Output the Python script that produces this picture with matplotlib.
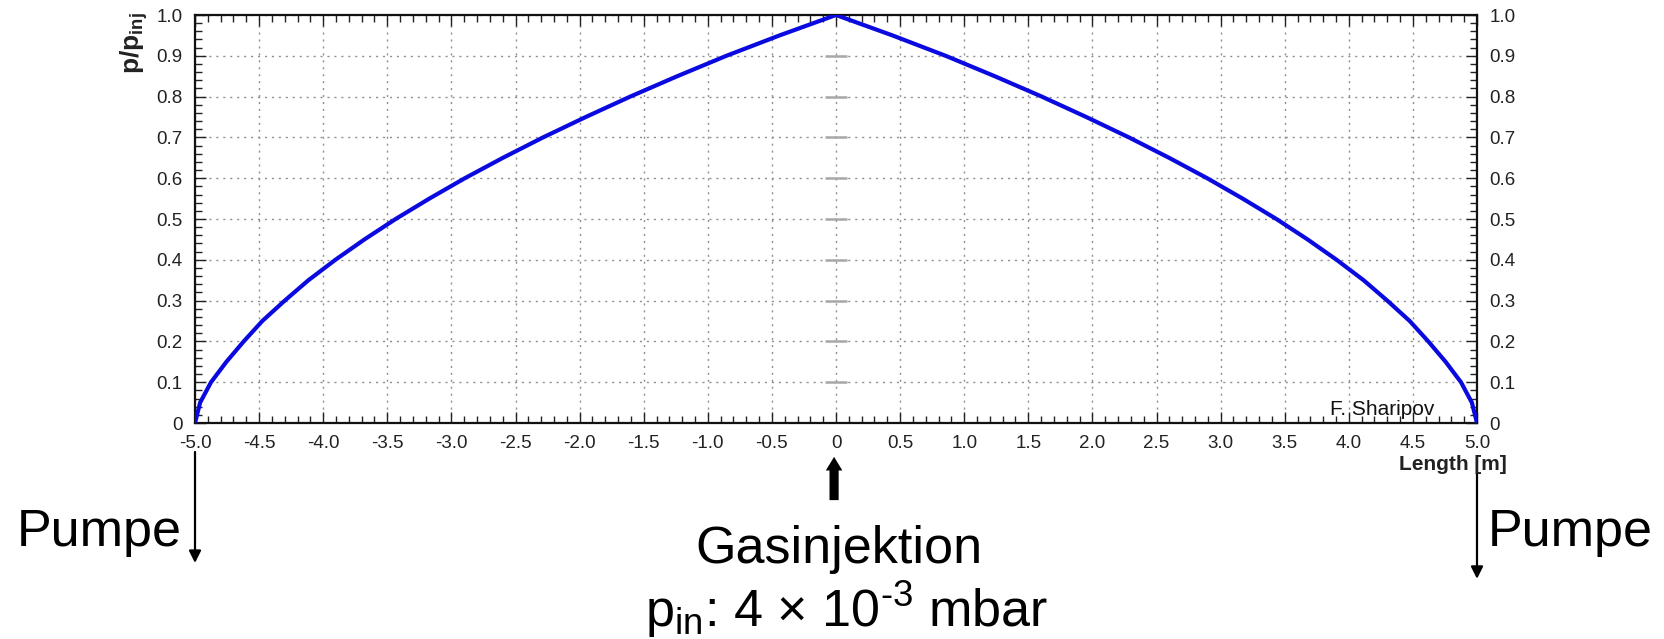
import matplotlib
matplotlib.use("Agg")
import matplotlib.pyplot as plt
from matplotlib.ticker import MultipleLocator, FixedLocator

plt.rcParams['font.family'] = ['Liberation Sans', 'DejaVu Sans']
plt.rcParams['mathtext.fontset'] = 'custom'
plt.rcParams['mathtext.rm'] = 'Liberation Sans'
plt.rcParams['mathtext.bf'] = 'Liberation Sans:bold'
plt.rcParams['axes.unicode_minus'] = False

# Data (positions where the curve crosses each p/p_inj level)
length_m = [-5.0, -4.96, -4.875, -4.755, -4.62, -4.475, -4.30, -4.115, -3.905, -3.678,
            -3.435, -3.172, -2.895, -2.598, -2.285, -1.952, -1.605, -1.238, -0.855, -0.44,
            0.0,
            0.44, 0.855, 1.238, 1.605, 1.952, 2.285, 2.598, 2.895, 3.172, 3.435,
            3.678, 3.905, 4.115, 4.30, 4.475, 4.62, 4.755, 4.875, 4.96, 5.0]
p_ratio = [0.0, 0.05, 0.10, 0.15, 0.20, 0.25, 0.30, 0.35, 0.40, 0.45,
           0.50, 0.55, 0.60, 0.65, 0.70, 0.75, 0.80, 0.85, 0.90, 0.95,
           1.0,
           0.95, 0.90, 0.85, 0.80, 0.75, 0.70, 0.65, 0.60, 0.55, 0.50,
           0.45, 0.40, 0.35, 0.30, 0.25, 0.20, 0.15, 0.10, 0.05, 0.0]

x_ticks = [-5.0, -4.5, -4.0, -3.5, -3.0, -2.5, -2.0, -1.5, -1.0, -0.5, 0.0,
           0.5, 1.0, 1.5, 2.0, 2.5, 3.0, 3.5, 4.0, 4.5, 5.0]
x_labels = ['-5.0', '-4.5', '-4.0', '-3.5', '-3.0', '-2.5', '-2.0', '-1.5', '-1.0', '-0.5', '0',
            '0.5', '1.0', '1.5', '2.0', '2.5', '3.0', '3.5', '4.0', '4.5', '5.0']
y_ticks = [0.0, 0.1, 0.2, 0.3, 0.4, 0.5, 0.6, 0.7, 0.8, 0.9, 1.0]
y_labels = ['0', '0.1', '0.2', '0.3', '0.4', '0.5', '0.6', '0.7', '0.8', '0.9', '1.0']

fig = plt.figure(figsize=(16.65, 6.39), dpi=100)
ax = fig.add_axes([195/1665, 1-423/639, (1477-195)/1665, (423-15)/639])

ax.set_xlim(-5, 5)
ax.set_ylim(0, 1)

# grid
ax.grid(True, which='major', color='#8f8f8f', linestyle=(0, (1.5, 3.5)), linewidth=1.0)
ax.set_axisbelow(True)

# gray center marks at x = 0
ax.hlines(y_ticks[1:-1], -0.085, 0.085, color='#a8a8a8', linewidth=1.8, zorder=1)

ax.plot(length_m, p_ratio, color='#0a0ae0', linewidth=3.0, zorder=3,
        solid_capstyle='round', solid_joinstyle='round')

ax.xaxis.set_major_locator(FixedLocator(x_ticks))
ax.set_xticklabels(x_labels)
ax.xaxis.set_minor_locator(MultipleLocator(0.1))
ax.yaxis.set_major_locator(FixedLocator(y_ticks))
ax.set_yticklabels(y_labels)
ax.yaxis.set_minor_locator(MultipleLocator(0.02))

ax.tick_params(axis='both', which='both', direction='in', top=True, right=True,
               labelright=True, colors='#222222', labelsize=13.5)
ax.tick_params(axis='both', which='major', length=8, width=1.0)
ax.tick_params(axis='both', which='minor', length=5, width=1.0)
ax.tick_params(axis='x', which='major', pad=9)
ax.tick_params(axis='y', which='major', pad=9)

for s in ax.spines.values():
    s.set_linewidth(1.6)
    s.set_color('#111111')

# axis titles
fig.text(134/1665, 1-12/639, r'p/p$_{\mathbf{inj}}$', rotation=90, ha='center', va='top',
         fontsize=19, fontweight='bold', color='#222222')
fig.text(1507/1665, 1-470/639, 'Length [m]', ha='right', va='baseline',
         fontsize=15, fontweight='bold', color='#222222')
ax.text(0.967, 0.02, 'F. Sharipov', transform=ax.transAxes, ha='right', va='baseline',
        fontsize=15, color='#111111')

# arrows
xt = ax.get_xaxis_transform()
ax.annotate('', xy=(-5, -0.343), xytext=(-5, -0.071), xycoords=xt, textcoords=xt,
            annotation_clip=False,
            arrowprops=dict(arrowstyle='-|>', color='black', lw=1.6, mutation_scale=18,
                            shrinkA=0, shrinkB=0))
ax.annotate('', xy=(5, -0.382), xytext=(5, -0.1225), xycoords=xt, textcoords=xt,
            annotation_clip=False,
            arrowprops=dict(arrowstyle='-|>', color='black', lw=1.6, mutation_scale=18,
                            shrinkA=0, shrinkB=0))
ax.annotate('', xy=(-0.015, -0.083), xytext=(-0.015, -0.189), xycoords=xt, textcoords=xt,
            annotation_clip=False,
            arrowprops=dict(arrowstyle='simple,head_length=0.7,head_width=0.85,tail_width=0.47',
                            color='black', lw=0, mutation_scale=14, shrinkA=0, shrinkB=0))

# big annotation texts
fig.text(182/1665, 1-546/639, 'Pumpe', ha='right', va='baseline', fontsize=37.5, color='black')
fig.text(1488/1665, 1-546/639, 'Pumpe', ha='left', va='baseline', fontsize=37.5, color='black')
fig.text(839/1665, 1-563/639, 'Gasinjektion', ha='center', va='baseline', fontsize=37.5, color='black')
fig.text(847/1665, 1-627/639, r'p$_{\mathregular{in}}$: 4 × 10$^{\text{-3}}$ mbar',
         ha='center', va='baseline', fontsize=37.5, color='black')

fig.savefig('out.png', dpi=100)
